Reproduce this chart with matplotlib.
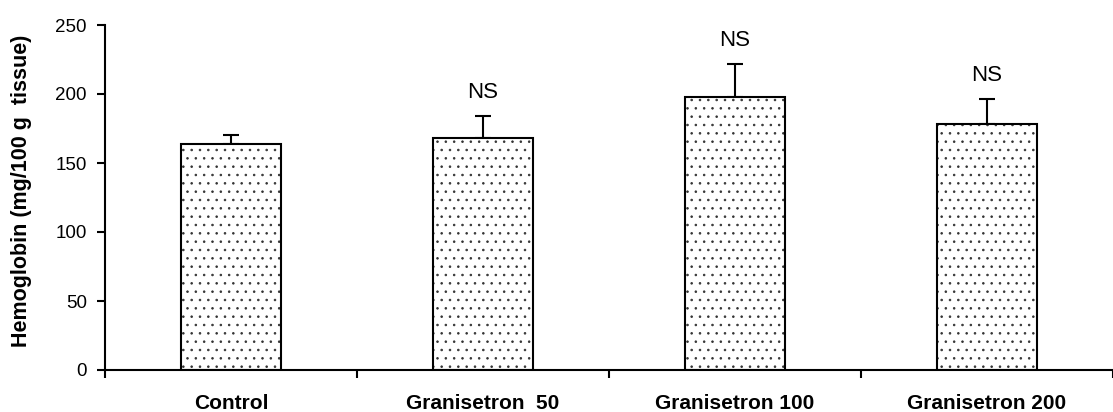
import matplotlib.pyplot as plt

plt.rcParams['font.family'] = ['Liberation Sans', 'DejaVu Sans']
plt.rcParams['hatch.linewidth'] = 0.6
plt.rcParams['hatch.color'] = '#333333'

groups = ['Control', 'Granisetron  50', 'Granisetron 100', 'Granisetron 200']
means = [164, 168, 198, 178]
errs = [6.5, 16, 24, 18.5]
marks = ['', 'NS', 'NS', 'NS']

fig = plt.figure(figsize=(11.13, 4.12), dpi=100)
ax = fig.add_axes([105 / 1113, 42 / 412, 1008 / 1113, 345 / 412])

x = list(range(len(groups)))
bars = ax.bar(x, means, width=0.4, color='white', edgecolor='black',
              linewidth=1.5, hatch='..', zorder=2)
for b in bars:
    b._hatch_color = (0.2, 0.2, 0.2, 1.0)
ax.errorbar(x, means, yerr=[[0] * len(errs), errs], fmt='none',
            ecolor='black', elinewidth=1.5, capsize=5.5, capthick=1.5, zorder=1)

# NS marks above the error bars
for xi, m, e, t in zip(x, means, errs, marks):
    if t:
        ax.text(xi, m + e + 17, t, ha='center', va='center', fontsize=16)

ax.set_xlim(-0.5, 3.46)
ax.set_ylim(0, 250)
ax.set_yticks([0, 50, 100, 150, 200, 250])

# group separators as major ticks, names on minor ticks
ax.set_xticks([-0.5, 0.5, 1.5, 2.5, 3.5])
ax.set_xticklabels([])
ax.set_xticks(x, minor=True)
ax.set_xticklabels(groups, minor=True, fontsize=15, fontweight='bold')
ax.tick_params(axis='x', which='minor', length=0, pad=17)
ax.tick_params(axis='x', which='major', length=6, width=1.5, direction='out')
ax.tick_params(axis='y', length=6, width=1.5, pad=7, labelsize=13.5)

ax.set_ylabel('Hemoglobin (mg/100 g  tissue)', fontsize=15.5, fontweight='bold')
ax.yaxis.set_label_coords(-0.072, 0.52)

for s in ['top', 'right']:
    ax.spines[s].set_visible(False)
for s in ['left', 'bottom']:
    ax.spines[s].set_linewidth(1.5)

fig.savefig('out.png', dpi=100)
